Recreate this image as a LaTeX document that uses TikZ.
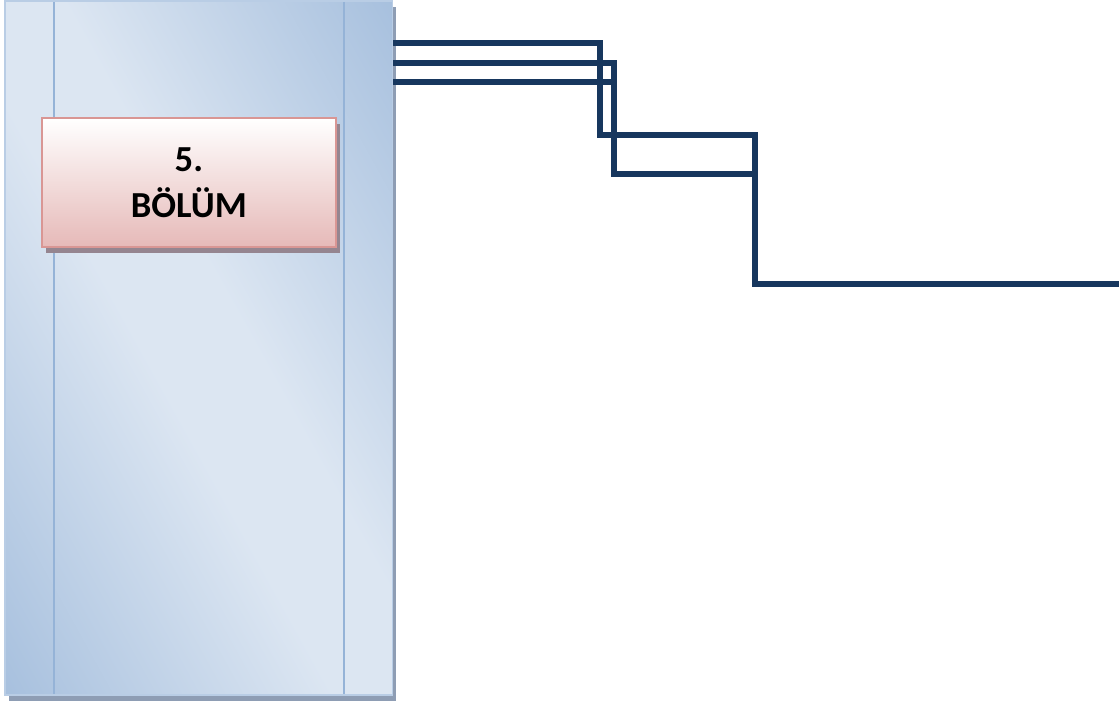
\documentclass[tikz,border=0pt]{standalone}
\usepackage{fontspec}
\setmainfont{Carlito}
\usetikzlibrary{shadows}
\definecolor{panellight}{HTML}{DCE6F2}
\definecolor{paneldark}{HTML}{95B3D7}
\definecolor{panelrim}{HTML}{B9CDE5}
\definecolor{panelshadow}{HTML}{8E9DB4}
\definecolor{boxpink}{HTML}{E6B9B8}
\definecolor{boxpinkmid}{HTML}{F2DCDB}
\definecolor{boxrim}{HTML}{D99694}
\definecolor{boxshadow}{HTML}{958590}
\definecolor{wireblue}{HTML}{17375E}
\pgfdeclarehorizontalshading{panelgrad}{100bp}{color(0bp)=(paneldark); color(6bp)=(paneldark); color(45bp)=(panellight); color(55bp)=(panellight); color(94bp)=(paneldark); color(100bp)=(paneldark)}

\begin{document}
\begin{tikzpicture}[x=0.75pt, y=-0.75pt,
  wire/.style={draw=wireblue, line width=3.9pt},
  strip/.style={draw=paneldark, line width=1.5pt},
  offshadow/.style={drop shadow={shadow xshift=3pt, shadow yshift=-4.5pt, fill=#1, opacity=1}}]
\useasboundingbox (0,0) rectangle (1119,706);
\node[draw=panelrim, line width=1.2pt, shade, shading=panelgrad, shading angle=29, minimum width=290.6pt, minimum height=520.5pt, inner sep=0pt, offshadow=panelshadow] (panel) at (198.75,348) {};
\draw[strip] (54,2) -- (54,694);
\draw[strip] (344,2) -- (344,694);
\node[draw=boxrim, line width=1.5pt, top color=white, bottom color=boxpink, middle color=boxpinkmid, minimum width=220.7pt, minimum height=96.75pt, inner sep=0pt, align=center, font=\fontsize{27.5}{35}\selectfont\bfseries, offshadow=boxshadow] (part) at (188.85,182.8) {5.\\BÖLÜM};

\coordinate (out) at (1119,284);
\draw[wire] (panel.east |- 0,43) -| (600,135) -| (755,284) -- (out);
\draw[wire] (panel.east |- 0,63) -| (614,174) -- (755,174);
\draw[wire] (panel.east |- 0,82) -- (614,82);
\end{tikzpicture}
\end{document}
